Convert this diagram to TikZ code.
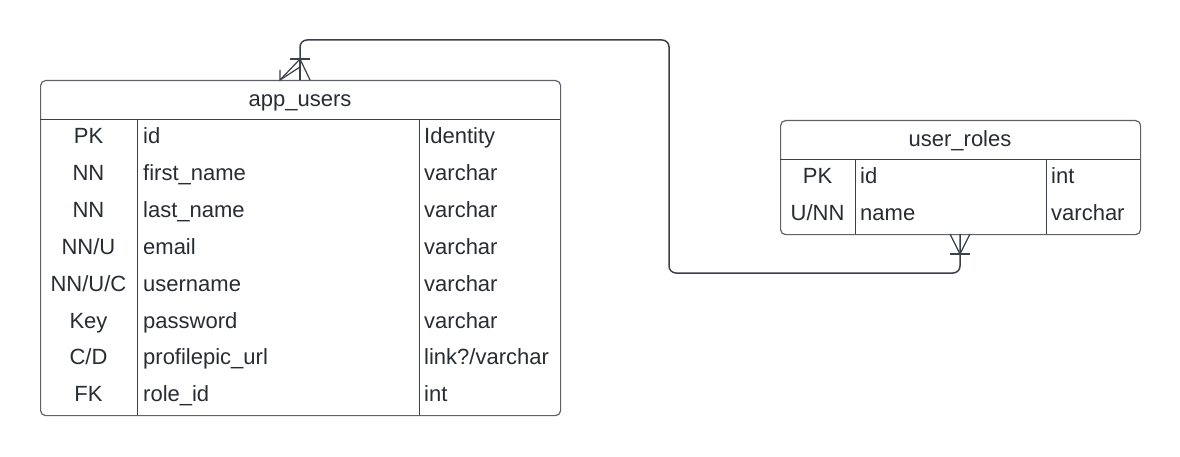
\documentclass[tikz,border=0pt]{standalone}
\usepackage{fontspec}
\setmainfont{Liberation Sans}
\definecolor{txt}{HTML}{282C33}
\definecolor{ln}{HTML}{3C4048}
\definecolor{bd}{HTML}{5F6368}
\begin{document}
\begin{tikzpicture}[x=1pt,y=-1pt,
  font=\fontsize{22}{26}\selectfont,
  tbl/.style={draw=bd, line width=1.2pt, rounded corners=5pt, inner sep=0pt, anchor=north west},
  divline/.style={draw=ln, line width=1pt},
  keytxt/.style={text=txt, anchor=base, inner sep=0pt},
  fldtxt/.style={text=txt, anchor=base west, inner sep=0pt},
  conn/.style={draw=ln, line width=1.5pt, rounded corners=7pt},
  foot/.style={draw=ln, line width=1.2pt}]
\useasboundingbox (0,0) rectangle (1180,457);
\fill[white] (0,0) rectangle (1180,457);

% ---------- app_users ----------
\node[tbl, minimum width=520pt, minimum height=335pt] (appusers) at (40,80) {};
\draw[divline] (40,120) -- (560,120);
\draw[divline] (137,120) -- (137,415);
\draw[divline] (419.5,120) -- (419.5,415);
\node[keytxt] (auh) at (300,107) {app\_users};

\foreach \k/\f/\t [count=\i from 0] in {PK/id/Identity, NN/first\_name/varchar, NN/last\_name/varchar, NN\slash U/email/varchar, NN\slash U\slash C/username/varchar, Key/password/varchar, C\slash D/profilepic\_url/link?\slash varchar, FK/role\_id/int}{
  \node[keytxt] (auk\i) at (88.5,143.5+36.9*\i) {\k};
  \node[fldtxt] (auf\i) at (143,143.5+36.9*\i) {\f};
  \node[fldtxt] (aut\i) at (424,143.5+36.9*\i) {\t};
}

% ---------- user_roles ----------
\node[tbl, minimum width=360pt, minimum height=114pt] (userroles) at (780,120) {};
\draw[divline] (780,160) -- (1140,160);
\draw[divline] (855.5,160) -- (855.5,234);
\draw[divline] (1046.5,160) -- (1046.5,234);
\node[keytxt] (urh) at (960,146.5) {user\_roles};

\foreach \k/\f/\t [count=\i from 0] in {PK/id/int, U\slash NN/name/varchar}{
  \node[keytxt] (urk\i) at (817.5,183.5+37*\i) {\k};
  \node[fldtxt] (urf\i) at (860,183.5+37*\i) {\f};
  \node[fldtxt] (urt\i) at (1051,183.5+37*\i) {\t};
}

% ---------- connector ----------
\coordinate (ca) at (300,80);
\coordinate (cb) at (960,234);
\draw[conn] (ca) -- (300,40) -- (669,40) -- (669,273) -- (960,273) -- (cb);

% crow's foot at app_users
\draw[foot] (290,59) -- (310,59);
\draw[foot] (310,80) -- (300,59) -- (280,80);
\draw[foot] (300,59) -- (300,80);
\draw[foot] (280,70) -- (280,80) -- (300,67);

% crow's foot at user_roles
\draw[foot] (950,254) -- (970,254);
\draw[foot] (950,234) -- (960,254) -- (970,234);
\end{tikzpicture}
\end{document}
